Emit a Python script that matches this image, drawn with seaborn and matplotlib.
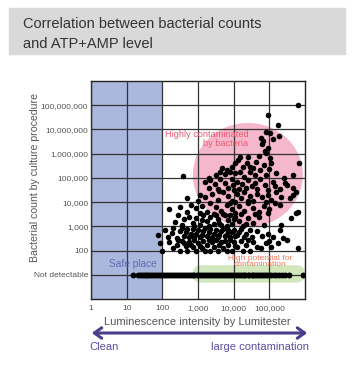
import numpy as np
import pandas as pd
import matplotlib
matplotlib.use("Agg")
import matplotlib.pyplot as plt
import seaborn as sns
from matplotlib.patches import Rectangle, Ellipse, FancyBboxPatch, FancyArrowPatch
from matplotlib.ticker import NullLocator

# log10 of luminescence (RLU) and log10 of bacterial count
lumi_log = [5.79, 4.97, 5.23, 4.90, 5.03, 5.27, 4.78, 4.83, 5.10, 4.97, 4.92, 5.01, 5.06, 4.80, 4.88,
            4.17, 4.13, 4.36, 4.45, 4.55, 4.73, 4.64, 3.94, 3.80, 3.66, 3.61, 3.89, 4.03, 4.17, 4.45,
            2.59, 5.83, 5.67, 4.25, 4.85, 5.00, 4.60, 4.30, 3.50, 3.30, 4.90, 5.20, 5.40, 4.05, 3.75,
            4.70, 4.40,
            3.19, 3.33, 3.47, 3.61, 3.75, 3.95, 3.98, 4.09, 4.23, 4.40, 4.59, 4.73, 4.87, 5.10, 5.15,
            5.43, 5.66, 3.85, 4.15, 4.35, 4.50, 3.55, 3.30, 4.00, 4.65, 4.95, 5.30, 5.50,
            2.68, 3.05, 3.20, 3.40, 3.55, 3.70, 3.85, 3.95, 4.10, 4.20, 4.30, 4.45, 4.55, 4.65, 4.80,
            4.95, 5.05, 5.33, 5.57, 5.66, 5.75, 3.00, 3.60, 4.05, 4.40, 4.90, 5.20,
            2.49, 2.18, 2.80, 2.95, 3.10, 3.25, 3.35, 3.50, 3.65, 3.80, 3.95, 4.05, 4.15, 4.30, 4.40,
            4.55, 4.70, 4.85, 5.00, 5.29, 5.80, 5.75, 2.70, 3.05, 3.45, 3.70, 4.20, 4.60, 4.95, 5.15,
            3.90,
            2.45, 2.35, 2.60, 2.75, 2.85, 2.95, 3.05, 3.15, 3.25, 3.35, 3.45, 3.55, 3.65, 3.75, 3.85,
            3.95, 4.05, 4.15, 4.25, 4.40, 4.55, 4.70, 4.85, 5.61, 5.33, 2.90, 3.10, 3.50, 3.80, 4.00,
            4.35, 2.55, 3.30, 3.60, 3.90,
            2.07, 1.89, 2.26, 2.17, 2.40, 2.30, 2.50, 2.60, 2.70, 2.80, 2.90, 3.00, 3.10, 3.20, 3.30,
            3.40, 3.50, 3.60, 3.70, 3.80, 3.90, 4.00, 4.10, 4.20, 4.35, 4.50, 4.65, 4.80, 5.29, 5.38,
            2.55, 2.65, 2.75, 2.85, 2.95, 3.05, 3.15, 3.25, 3.35, 3.45, 3.55, 3.65, 3.75, 3.85, 3.95,
            4.05, 4.15, 4.30, 4.45, 4.95, 5.10,
            1.93, 1.98, 2.31, 2.20, 2.40, 2.50, 2.55, 2.65, 2.70, 2.75, 2.85, 2.90, 2.95, 3.00, 3.10,
            3.15, 3.20, 3.25, 3.35, 3.40, 3.45, 3.50, 3.55, 3.60, 3.70, 3.75, 3.80, 3.85, 3.95, 4.00,
            4.10, 4.20, 4.25, 4.35, 4.45, 4.55, 4.65, 4.77, 4.90, 5.05, 5.24, 5.80, 2.45, 2.60, 2.80,
            3.05, 3.30, 3.65, 3.90, 4.05, 4.40, 5.00, 5.50]
count_log = [8.02, 7.60, 7.19, 6.91, 6.85, 6.75, 6.64, 6.54, 6.62, 6.23, 6.02, 5.81, 5.61, 6.40, 6.10,
             5.88, 5.74, 5.61, 5.47, 5.40, 5.33, 5.67, 5.47, 5.33, 5.40, 5.26, 5.26, 5.19, 5.26, 5.26,
             5.08, 5.61, 5.12, 5.45, 5.55, 5.35, 5.10, 5.05, 5.10, 5.00, 5.10, 5.20, 5.00, 5.60, 5.15,
             5.90, 5.85,
             4.85, 4.90, 4.75, 4.95, 4.80, 4.95, 4.70, 4.85, 4.75, 4.90, 4.80, 4.95, 4.70, 4.85, 4.65,
             4.80, 4.60, 4.60, 4.55, 4.60, 4.65, 4.55, 4.60, 4.50, 4.55, 4.50, 4.55, 4.70,
             4.16, 4.30, 4.20, 4.35, 4.10, 4.40, 4.25, 4.05, 4.35, 4.15, 4.40, 4.25, 4.05, 4.35, 4.20,
             4.30, 4.10, 4.23, 4.16, 4.30, 4.43, 4.05, 4.45, 4.00, 4.05, 4.00, 4.40,
             3.81, 3.71, 3.90, 3.75, 3.85, 3.60, 3.95, 3.80, 3.65, 3.90, 3.70, 3.55, 3.85, 3.65, 3.95,
             3.75, 3.60, 3.85, 3.70, 3.88, 3.61, 3.55, 3.60, 3.55, 3.50, 3.52, 3.50, 3.52, 3.55, 3.95,
             3.95,
             3.47, 3.19, 3.30, 3.40, 3.15, 3.35, 3.05, 3.45, 3.20, 3.40, 3.10, 3.30, 3.05, 3.45, 3.25,
             3.10, 3.40, 3.20, 3.00, 3.35, 3.15, 3.40, 3.05, 3.33, 3.06, 3.00, 3.25, 3.45, 3.00, 3.30,
             3.10, 3.05, 3.00, 3.15, 3.45,
             2.85, 2.64, 2.74, 2.57, 2.51, 2.95, 2.80, 2.60, 2.90, 2.70, 2.55, 2.85, 2.65, 2.95, 2.75,
             2.55, 2.85, 2.65, 2.90, 2.70, 2.55, 2.85, 2.65, 2.90, 2.70, 2.55, 2.80, 2.60, 2.85, 2.51,
             2.95, 2.75, 2.55, 2.90, 2.70, 2.55, 2.80, 2.60, 2.90, 2.70, 2.55, 2.80, 2.60, 2.85, 2.75,
             2.60, 2.75, 2.55, 2.85, 2.70, 2.55,
             2.30, 2.00, 2.10, 2.35, 2.25, 2.00, 2.40, 2.20, 2.00, 2.35, 2.15, 2.45, 2.00, 2.30, 2.10,
             2.40, 2.00, 2.25, 2.00, 2.35, 2.15, 2.45, 2.00, 2.25, 2.10, 2.40, 2.00, 2.25, 2.00, 2.35,
             2.15, 2.40, 2.00, 2.25, 2.00, 2.35, 2.15, 2.10, 2.30, 2.16, 2.30, 2.10, 2.45, 2.30, 2.25,
             2.20, 2.45, 2.35, 2.45, 2.20, 2.45, 2.40, 2.45]

# samples with no detectable bacteria (plotted on the "Not detectable" row)
nd_lumi_log = [1.19, 1.31, 1.37, 1.42, 1.48, 1.53, 1.58, 1.64, 1.69, 1.75, 1.80, 1.86, 1.91, 1.97,
               2.02, 2.08, 2.13, 2.19, 2.24, 2.30, 2.35, 2.41, 2.46, 2.52, 2.57, 2.63, 2.68, 2.74,
               2.79, 2.85, 2.90, 2.96, 3.01, 3.07, 3.12, 3.18, 3.23, 3.29, 3.34, 3.40, 3.45, 3.51,
               3.56, 3.62, 3.67, 3.73, 3.78, 3.84, 3.89, 3.95, 4.00, 4.06, 4.11, 4.17, 4.22, 4.28,
               4.33, 4.39, 4.44, 4.50, 4.55, 4.61, 4.66, 4.72, 4.77, 4.83, 4.88, 4.94, 4.99, 5.05,
               5.12, 5.20, 5.28, 5.36, 5.45, 5.55, 5.94]
nd_level = 10

x_ticks = [1, 10, 100, 1000, 10000, 100000]
x_labels = ["1", "10", "100", "1,000", "10,000", "100,000"]
y_ticks = [10, 100, 1000, 10000, 100000, 1000000, 10000000, 100000000]
y_labels = ["Not detectable", "100", "1,000", "10,000", "100,000", "1,000,000",
            "10,000,000", "100,000,000"]

df = pd.DataFrame({"lumi": np.power(10.0, lumi_log), "count": np.power(10.0, count_log)})
nd = pd.DataFrame({"lumi": np.power(10.0, nd_lumi_log), "count": nd_level})

sns.set_style("white")
plt.rcParams["font.family"] = ["Liberation Sans", "DejaVu Sans"]

W, H = 355, 366
fig = plt.figure(figsize=(W / 100, H / 100), dpi=100)

# title box
fig.patches.append(Rectangle((9 / W, 1 - 54 / H), 336 / W, 46 / H, transform=fig.transFigure,
                             color="#d9d9d9", zorder=0))
fig.text(23 / W, 1 - 24 / H, "Correlation between bacterial counts", fontsize=10.5,
         color="#333333", va="center", ha="left")
fig.text(23 / W, 1 - 44 / H, "and ATP+AMP level", fontsize=10.5,
         color="#333333", va="center", ha="left")

ax = fig.add_axes([91 / W, 1 - 299 / H, 214 / W, 218 / H])
ax.set_xscale("log")
ax.set_yscale("log")
ax.set_xlim(1, 1e6)
ax.set_ylim(1, 1e9)

# background zones
ax.axvspan(1, 100, color="#a9b8dc", zorder=0.5, lw=0)
ax.add_patch(Ellipse((0.733, 0.569), 0.514, 0.477, transform=ax.transAxes,
                     fc="#f5b7cb", ec="none", zorder=0.6))
ax.add_patch(FancyBboxPatch((0.475, 0.075), 0.525, 0.08,
                            boxstyle="round,pad=0,rounding_size=0.04",
                            transform=ax.transAxes, fc="#d2e7bb", ec="none", zorder=0.7))

sns.scatterplot(data=df, x="lumi", y="count", ax=ax, color="black", s=16,
                linewidth=0, zorder=3, legend=False)
sns.scatterplot(data=nd, x="lumi", y="count", ax=ax, color="black", s=18,
                linewidth=0, zorder=3, legend=False)

ax.set_xticks(x_ticks)
ax.set_xticklabels(x_labels)
ax.set_yticks(y_ticks)
ax.set_yticklabels(y_labels)
ax.xaxis.set_minor_locator(NullLocator())
ax.yaxis.set_minor_locator(NullLocator())
ax.tick_params(length=0, labelsize=6, colors="#555555")
ax.tick_params(axis="x", pad=4)
ax.tick_params(axis="y", pad=2)
ax.set_xlabel("")
ax.set_ylabel("")

ax.set_axisbelow(False)
ax.grid(True, which="major", color="#333333", lw=0.9, zorder=2)
for sp in ax.spines.values():
    sp.set_color("#222222")
    sp.set_linewidth(1)

# zone labels
ax.text(10 ** 1.18, 10 ** 1.45, "Safe place", fontsize=7.3, color="#6767b5",
        ha="center", va="center", zorder=4)
ax.text(10 ** 4.41, 10 ** 6.6, "Highly contaminated\nby bacteria", fontsize=6.6,
        color="#ea5a72", ha="right", va="center", multialignment="right",
        linespacing=0.95, zorder=4)
ax.text(10 ** 4.73, 10 ** 1.55, "High potential for\ncontamination", fontsize=6,
        color="#f07b5c", ha="center", va="center", linespacing=0.95, zorder=4)

# axis titles
fig.text(35 / W, 1 - 177 / H, "Bacterial count by culture procedure", rotation=90,
         fontsize=7.6, color="#555555", ha="center", va="center")
fig.text(197 / W, 1 - 322 / H, "Luminescence intensity by Lumitester",
         fontsize=8, color="#555555", ha="center", va="center")

# clean -> contamination arrow
fig.add_artist(FancyArrowPatch((89 / W, 1 - 333 / H), (310 / W, 1 - 333 / H),
                               transform=fig.transFigure,
                               arrowstyle="<->,head_length=0.35,head_width=0.25",
                               mutation_scale=15, lw=2.2, color="#4b3c8e"))
fig.text(89 / W, 1 - 347 / H, "Clean", fontsize=8, color="#5b4ea3", ha="left", va="center")
fig.text(309 / W, 1 - 347 / H, "large contamination", fontsize=8, color="#5b4ea3",
         ha="right", va="center")

fig.savefig("out.png", dpi=100)
